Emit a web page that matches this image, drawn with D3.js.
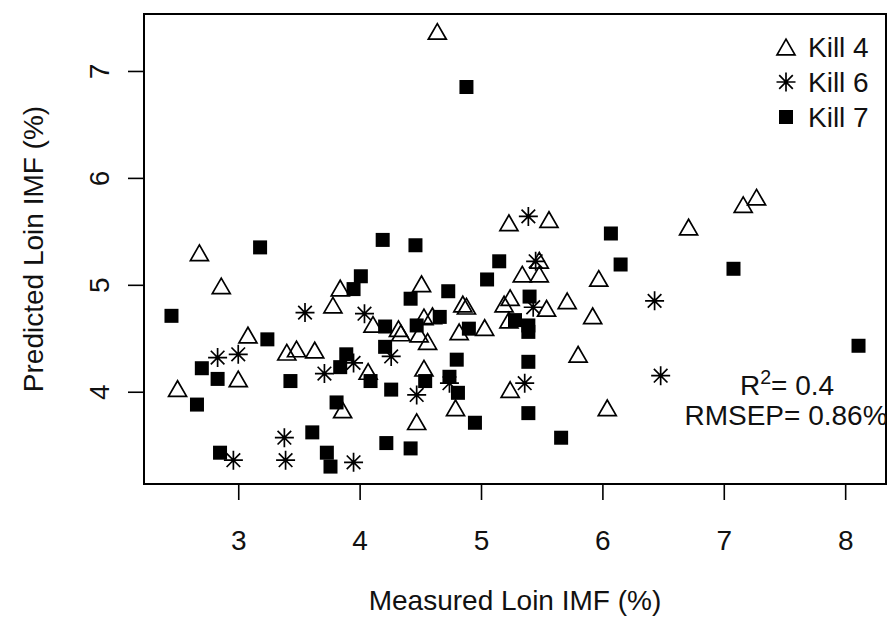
<!DOCTYPE html>
<html><head><meta charset="utf-8">
<script src="https://cdn.jsdelivr.net/npm/d3@7"></script>
<style>html,body{margin:0;padding:0;background:#fff;} svg{display:block;font-family:"Liberation Sans",Arial,sans-serif;}</style>
</head><body><svg id="c" width="888" height="618"></svg>
<script>
// ---- data ----
const kill4X = [2.68,2.86,3.08,3.40,3.48,3.63,3.00,2.50,3.84,3.78,4.11,4.32,4.34,4.53,4.60,4.49,4.56,4.51,4.07,4.53,3.86,4.47,5.23,5.56,6.71,5.48,5.34,5.48,5.97,4.85,4.88,5.19,5.24,5.54,5.71,5.92,4.82,5.03,5.23,5.80,4.79,5.24,6.04,4.64,7.27,7.16];
const kill4Y = [5.30,4.99,4.53,4.37,4.40,4.39,4.12,4.03,4.97,4.81,4.63,4.59,4.55,4.70,4.71,4.54,4.47,5.01,4.19,4.22,3.83,3.72,5.58,5.61,5.54,5.23,5.10,5.10,5.06,4.82,4.80,4.82,4.88,4.78,4.85,4.71,4.56,4.60,4.67,4.35,3.85,4.02,3.85,7.37,5.82,5.75];
const kill6X = [2.83,3.00,3.55,4.04,4.26,3.95,3.71,4.47,3.38,2.96,3.39,3.95,5.39,5.45,5.43,6.43,4.74,5.36,6.48];
const kill6Y = [4.32,4.35,4.74,4.73,4.33,4.27,4.17,3.97,3.57,3.36,3.36,3.34,5.64,5.22,4.79,4.85,4.08,4.08,4.15];
const kill7X = [3.18,2.45,3.24,2.70,2.83,3.43,2.66,4.01,3.95,4.21,4.47,4.66,4.19,4.46,4.42,4.73,4.21,3.89,3.84,4.09,4.26,4.54,3.81,3.61,4.22,4.42,2.85,3.73,3.76,4.88,6.07,6.15,5.15,5.05,5.40,4.90,5.28,5.39,5.39,4.80,5.39,4.74,4.81,5.39,4.95,5.66,7.08,8.11];
const kill7Y = [5.35,4.71,4.49,4.22,4.12,4.10,3.88,5.08,4.96,4.61,4.62,4.70,5.42,5.37,4.87,4.94,4.42,4.35,4.23,4.10,4.02,4.10,3.90,3.62,3.52,3.47,3.43,3.43,3.30,6.85,5.48,5.19,5.22,5.05,4.89,4.59,4.67,4.62,4.56,4.30,4.28,4.14,3.99,3.80,3.71,3.57,5.15,4.43];
const xTicks = [3,4,5,6,7,8];
const yTicks = [4,5,6,7];
const seriesNames = ["Kill 4","Kill 6","Kill 7"];
const xTitle = "Measured Loin IMF (%)";
const yTitle = "Predicted Loin IMF (%)";
const r2Value = "0.4";
const rmsepValue = "0.86%";

// ---- layout ----
const svg = d3.select("#c");
const box = {l:144, r:886, t:14, b:484};
const FS = 28;
const allX = kill4X.concat(kill6X, kill7X), allY = kill4Y.concat(kill6Y, kill7Y);
function rDomain(a){const e=d3.extent(a), p=(e[1]-e[0])*0.04; return [e[0]-p, e[1]+p];}
const x = d3.scaleLinear().domain(rDomain(allX)).range([box.l, box.r]);
const y = d3.scaleLinear().domain(rDomain(allY)).range([box.b, box.t]);

svg.append("defs").append("clipPath").attr("id","plotclip")
  .append("rect").attr("x",box.l).attr("y",box.t).attr("width",box.r-box.l).attr("height",box.b-box.t);

// symbols
const triPath = "M0,-7.8L9,7.8L-9,7.8Z";
const astPath = "M0,-9.5V9.5M-9.5,0H9.5M-6.8,-6.8L6.8,6.8M-6.8,6.8L6.8,-6.8";
const SQ = 14;
const SW = 1.7;

function drawSymbol(g, type, cx, cy){
  if(type===0){
    g.append("path").attr("d",triPath).attr("transform",`translate(${cx},${cy})`)
      .attr("fill","none").attr("stroke","#000").attr("stroke-width",SW).attr("stroke-linejoin","miter");
  } else if(type===1){
    g.append("path").attr("d",astPath).attr("transform",`translate(${cx},${cy})`)
      .attr("fill","none").attr("stroke","#000").attr("stroke-width",SW);
  } else {
    g.append("rect").attr("x",cx-SQ/2).attr("y",cy-SQ/2).attr("width",SQ).attr("height",SQ).attr("fill","#000");
  }
}

const pts = svg.append("g").attr("clip-path","url(#plotclip)");
const series = [[kill4X,kill4Y],[kill6X,kill6Y],[kill7X,kill7Y]];
series.forEach((s,i)=>{
  const g = pts.append("g").attr("class","series-"+i);
  s[0].forEach((v,j)=> drawSymbol(g, i, x(v), y(s[1][j])));
});

// axes
const xAxis = svg.append("g").attr("transform",`translate(0,${box.b})`)
  .call(d3.axisBottom(x).tickValues(xTicks).tickSize(16).tickFormat(d3.format("d")));
xAxis.select(".domain").remove();
xAxis.selectAll(".tick line").attr("stroke","#000").attr("stroke-width",1.6);
xAxis.selectAll(".tick text").attr("y",66).attr("dy",0).attr("font-size",FS)
  .attr("font-family",'"Liberation Sans",Arial,sans-serif').attr("fill","#111");

const yAxis = svg.append("g").attr("transform",`translate(${box.l},0)`)
  .call(d3.axisLeft(y).tickValues(yTicks).tickSize(16).tickFormat(d3.format("d")));
yAxis.select(".domain").remove();
yAxis.selectAll(".tick line").attr("stroke","#000").attr("stroke-width",1.6);
yAxis.selectAll(".tick text").attr("x",null).attr("dy",0).attr("text-anchor","middle")
  .attr("transform","translate(-35,0) rotate(-90)").attr("font-size",FS)
  .attr("font-family",'"Liberation Sans",Arial,sans-serif').attr("fill","#111");

// box
svg.append("rect").attr("x",box.l).attr("y",box.t).attr("width",box.r-box.l).attr("height",box.b-box.t)
  .attr("fill","none").attr("stroke","#000").attr("stroke-width",2);

// titles
svg.append("text").attr("x",(box.l+box.r)/2).attr("y",610).attr("text-anchor","middle")
  .attr("font-size",FS).attr("fill","#111").text(xTitle);
svg.append("text").attr("transform",`translate(43,${(box.t+box.b)/2}) rotate(-90)`).attr("text-anchor","middle")
  .attr("font-size",FS).attr("fill","#111").text(yTitle);

// legend
const leg = svg.append("g");
const legRowY = [47, 82, 117];
seriesNames.forEach((n,i)=>{
  drawSymbol(leg, i, 786, legRowY[i]);
  leg.append("text").attr("x",808).attr("y",legRowY[i]+10).attr("font-size",FS).attr("fill","#111").text(n);
});

// annotation
const ann = svg.append("g").attr("clip-path","url(#plotclip)");
const t1 = ann.append("text").attr("x",787).attr("y",395).attr("text-anchor","middle").attr("font-size",FS).attr("fill","#111");
t1.append("tspan").text("R");
t1.append("tspan").attr("dy",-11).attr("font-size",FS*0.7).text("2");
t1.append("tspan").attr("dy",11).text("= " + r2Value);
ann.append("text").attr("x",786).attr("y",425).attr("text-anchor","middle").attr("font-size",FS).attr("fill","#111")
  .text("RMSEP= " + rmsepValue);
</script></body></html>
